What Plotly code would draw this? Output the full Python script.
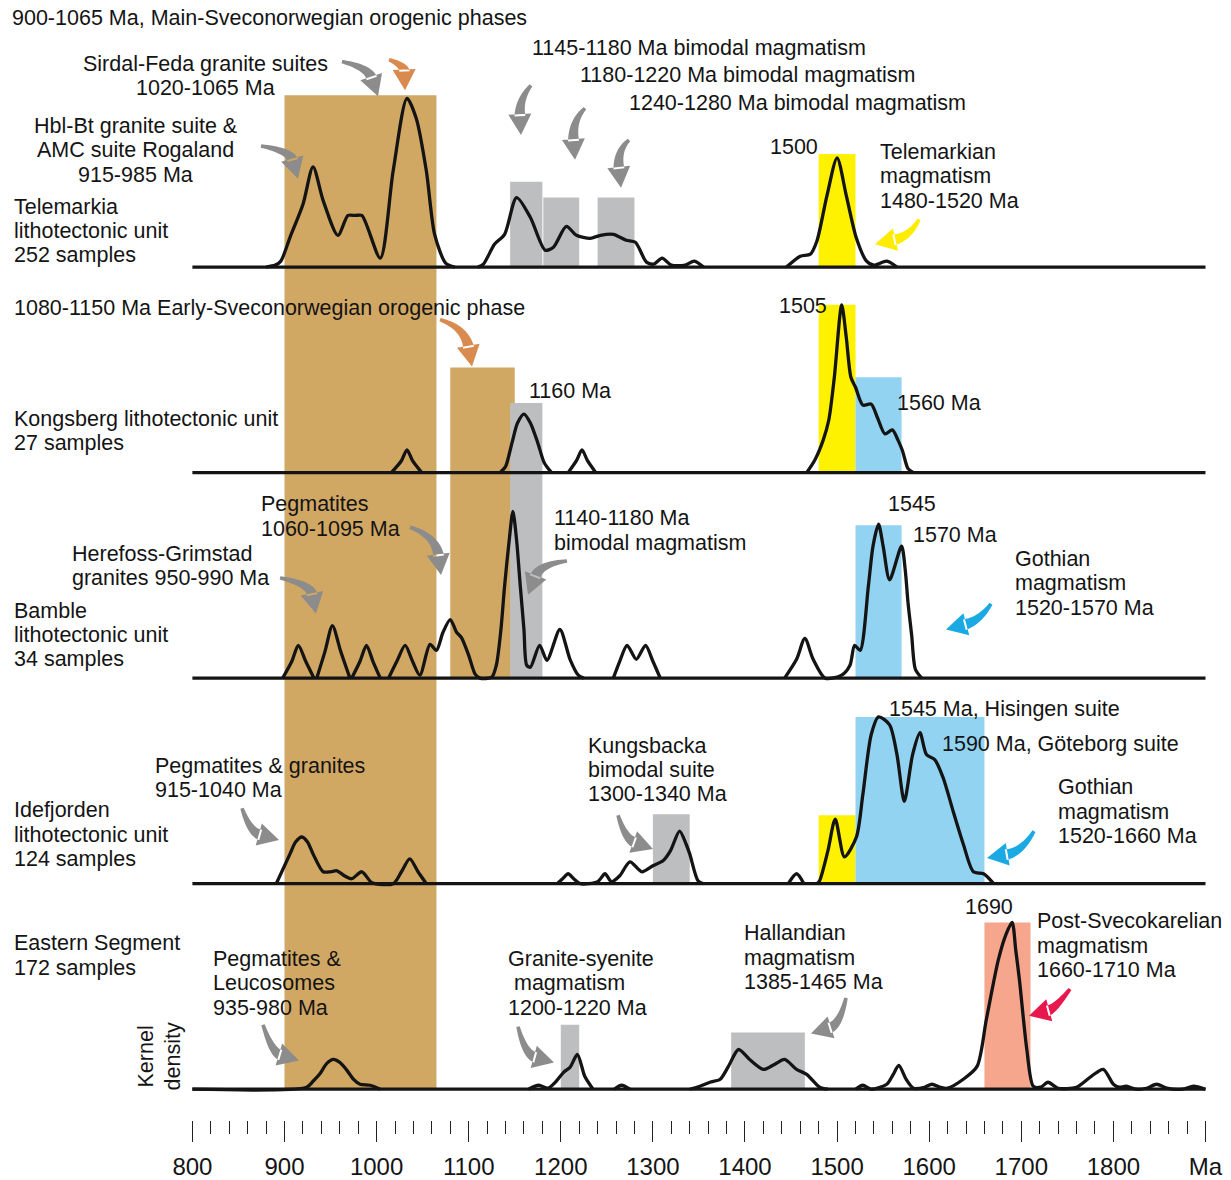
import numpy as np
import plotly.graph_objects as go

W, H = 1231, 1180
PLOT_H = 1128            # height of the plotting area; the age ruler sits below it
X_RANGE = [591.1, 1927.7]  # Ma shown across the full width

# ---------------------------------------------------------------- data
# baseline of each lithotectonic unit in stack units (0 = bottom of plot area)
unit_names = ["Telemarkia", "Kongsberg", "Bamble", "Idefjorden", "Eastern Segment"]
unit_base = [859, 652, 445, 238, 31]

# kernel density curves (age in Ma, relative density)
age_tel = [800, 880, 890, 896, 906, 920, 931, 942, 958, 969, 977, 984, 1004, 1018, 1033,
           1043, 1054, 1063, 1075, 1085, 1110, 1116, 1128, 1139, 1152, 1167, 1183, 1192,
           1206, 1217, 1232, 1243, 1257, 1271, 1281, 1293, 1301, 1310, 1320, 1335, 1345,
           1355, 1445, 1460, 1471, 1478, 1489, 1500, 1510, 1521, 1532, 1540, 1554, 1565,
           1580, 1900]
kde_tel = [0, 0, 2, 6, 30, 63, 101, 67, 32, 52, 52, 52, 9, 97, 170,
           150, 97, 33, 4, 0, 0, 3, 23, 33, 70, 50, 17, 20,
           41, 32, 29, 32, 33, 27, 25, 5, 3, 9, 2, 2, 6,
           0, 0, 11, 13, 26, 72, 110, 72, 29, 6, 2, 6, 0,
           0, 0]

age_kon = [800, 1016, 1027, 1033, 1039, 1049, 1134, 1140, 1147, 1153, 1160, 1167, 1175,
           1182, 1190, 1208, 1217, 1223, 1229, 1238, 1467, 1476, 1485, 1491, 1497, 1505,
           1510, 1515, 1520, 1528, 1537, 1544, 1552, 1560, 1566, 1571, 1577, 1583, 1900]
kde_kon = [0, 0, 12, 23, 12, 0, 0, 6, 30, 50, 59, 50, 30,
           10, 0, 0, 12, 23, 12, 0, 0, 13, 33, 53, 96, 169,
           136, 96, 86, 68, 69, 55, 39, 43, 33, 22, 4, 0, 0]

age_bam = [800, 898, 908, 915, 923, 932, 935, 944, 952, 961, 971, 973, 982, 989, 996,
           1004, 1013, 1022, 1031, 1039, 1047, 1058, 1065, 1072, 1080, 1087, 1092, 1100,
           1107, 1112, 1125, 1130, 1135, 1139, 1144, 1148, 1152, 1156, 1160, 1163, 1167,
           1177, 1185, 1199, 1210, 1219, 1225, 1257, 1264, 1272, 1282, 1292, 1300, 1308,
           1443, 1456, 1465, 1474, 1487, 1505, 1514, 1519, 1525, 1534, 1539, 1545, 1550,
           1557, 1570, 1574, 1577, 1581, 1585, 1592, 1900]
kde_bam = [0, 0, 17, 33, 17, 0, 0, 27, 53, 27, 0, 0, 17, 33, 17,
           0, 0, 17, 33, 17, 3, 34, 28, 46, 59, 46, 41, 23,
           4, 0, 1, 13, 49, 93, 139, 168, 139, 93, 49, 13, 11,
           33, 18, 49, 19, 3, 0, 0, 17, 33, 19, 33, 17, 0,
           0, 19, 40, 19, 0, 3, 13, 33, 28, 93, 133, 155, 133,
           99, 133, 109, 76, 43, 9, 0, 0]

age_ide = [800, 891, 906, 912, 919, 925, 931, 942, 950, 957, 965, 973, 984, 995, 1018,
           1027, 1036, 1045, 1054, 1196, 1202, 1208, 1214, 1221, 1240, 1248, 1255, 1264,
           1275, 1288, 1300, 1311, 1319, 1329, 1336, 1340, 1349, 1355, 1447, 1456, 1464,
           1478, 1481, 1490, 1498, 1508, 1521, 1528, 1537, 1545, 1557, 1565, 1573, 1582,
           1590, 1597, 1606, 1615, 1626, 1637, 1648, 1659, 1670, 1900]
kde_ide = [0, 0, 30, 42, 47, 42, 30, 12, 12, 13, 8, 5, 12, 1, 0,
           12, 25, 12, 0, 0, 5, 10, 5, 0, 2, 10, 2, 8,
           22, 12, 18, 23, 33, 53, 40, 30, 3, 0, 0, 10, 0,
           0, 3, 33, 65, 27, 47, 90, 150, 168, 160, 130, 83, 130,
           152, 130, 125, 107, 73, 40, 12, 10, 0, 0]

age_es = [800, 924, 931, 938, 946, 953, 960, 967, 975, 982, 993, 1004, 1165, 1176, 1186,
          1195, 1203, 1210, 1218, 1226, 1235, 1258, 1266, 1275, 1340, 1351, 1362, 1373,
          1382, 1393, 1405, 1420, 1432, 1443, 1456, 1467, 1481, 1490, 1520, 1528, 1537,
          1554, 1561, 1567, 1575, 1583, 1595, 1603, 1612, 1620, 1637, 1652, 1662, 1675,
          1683, 1690, 1694, 1698, 1706, 1713, 1721, 1729, 1740, 1760, 1776, 1789, 1800,
          1806, 1814, 1825, 1836, 1847, 1858, 1875, 1887, 1900]
kde_es = [0, 2, 8, 15, 26, 30, 27, 20, 10, 5, 4, 0, 0, 4, 1,
          8, 17, 22, 35, 13, 0, 0, 4, 0, 0, 3, 7, 10,
          23, 40, 30, 20, 25, 30, 20, 15, 2, 0, 0, 4, 0,
          5, 15, 24, 10, 1, 2, 5, 2, 1, 10, 23, 70, 130,
          155, 168, 140, 110, 40, 3, 2, 7, 1, 2, 13, 20, 5,
          2, 3, 0, 1, 5, 1, 0, 3, 0]

unit_ages = [age_tel, age_kon, age_bam, age_ide, age_es]
unit_kde = [kde_tel, kde_kon, kde_bam, kde_ide, kde_es]

# highlighted age intervals: start, end, top unit, top height, bottom unit, colour key
band_start = [900, 1080, 1145, 1145, 1181, 1240, 1480, 1480, 1520, 1520, 1300, 1480, 1520, 1200, 1385, 1660]
band_end = [1065, 1150, 1180, 1180, 1220, 1280, 1520, 1520, 1570, 1570, 1340, 1520, 1660, 1220, 1465, 1710]
band_top_unit = [0, 1, 1, 0, 0, 0, 0, 1, 1, 2, 3, 3, 3, 4, 4, 4]
band_top_height = [173, 106, 70, 86, 70, 70, 114, 169, 96, 154, 70, 69, 168, 65, 57, 168]
band_bottom_unit = [4, 2, 2, 0, 0, 0, 0, 1, 1, 2, 3, 3, 3, 4, 4, 4]
band_kind = ["orogeny", "orogeny", "bimodal", "bimodal", "bimodal", "bimodal", "telemarkian",
             "telemarkian", "gothian", "gothian", "bimodal", "telemarkian", "gothian",
             "bimodal", "bimodal", "svecokarelian"]

tick_ages = [800, 900, 1000, 1100, 1200, 1300, 1400, 1500, 1600, 1700, 1800, 1900]
tick_text = ["800", "900", "1000", "1100", "1200", "1300", "1400", "1500", "1600", "1700", "1800", "Ma"]
minor_ages = [a for a in range(800, 1901, 20) if a % 100]

# ---------------------------------------------------------------- styles
band_colors = {
    "orogeny": "#D1A764",
    "bimodal": "#BDBEC0",
    "telemarkian": "#FFF200",
    "gothian": "#92D3F1",
    "svecokarelian": "#F5A68C",
}
ARROW_GREY = "#8C8C8C"
ARROW_ORANGE = "#D98A4E"
ARROW_YELLOW = "#FFEC00"
ARROW_BLUE = "#1BA9E3"
ARROW_RED = "#E8184C"
INK = "#141414"
FONT = "Liberation Sans, Arial, sans-serif"
FS = 21.5
LINE = 24.5

fig = go.Figure()

# interval bands
shapes = []
for s, e, tu, th, bu, k in zip(band_start, band_end, band_top_unit, band_top_height,
                               band_bottom_unit, band_kind):
    shapes.append(dict(type="rect", xref="x", yref="y", x0=s, x1=e,
                       y0=unit_base[bu], y1=unit_base[tu] + th,
                       fillcolor=band_colors[k], line=dict(width=0), layer="below"))


def peak_runs(ages, dens, base):
    """Split a density curve at flat zero stretches so the spline only bends over peaks."""
    xs, ys = [], []
    for i, (a, d) in enumerate(zip(ages, dens)):
        if i > 0 and d == 0 and dens[i - 1] == 0:
            xs.append(None)
            ys.append(None)
        xs.append(a)
        ys.append(base + d)
    return xs, ys


# density curves and baselines
for name, base, ages, dens in zip(unit_names, unit_base, unit_ages, unit_kde):
    fig.add_trace(go.Scatter(
        x=[tick_ages[0], tick_ages[-1]], y=[base, base], mode="lines",
        line=dict(color=INK, width=3.3), hoverinfo="skip", showlegend=False))
    xs, ys = peak_runs(ages, dens, base)
    fig.add_trace(go.Scatter(
        x=xs, y=ys, mode="lines", name=name, connectgaps=False,
        line=dict(color=INK, width=3.3, shape="spline", smoothing=0.75),
        hoverinfo="skip", showlegend=False))


# ---------------------------------------------------------------- arrows
def to_paper(p):
    return p[0] / W, (PLOT_H - p[1]) / PLOT_H


def arrow_path(tail, ctrl, tip, w0=3.5, w1=11.0, hl=21.0, hw=11.5):
    tail, ctrl, tip = (np.array(v, dtype=float) for v in (tail, ctrl, tip))
    d = tip - ctrl
    d /= np.linalg.norm(d)
    base = tip - d * hl
    left, right = [], []
    for t in np.linspace(0, 1, 18):
        p = (1 - t) ** 2 * tail + 2 * (1 - t) * t * ctrl + t ** 2 * (base + d * 2)
        dv = 2 * (1 - t) * (ctrl - tail) + 2 * t * (base + d * 2 - ctrl)
        n = np.array([-dv[1], dv[0]]) / np.linalg.norm(dv)
        w = (w0 + (w1 - w0) * t) / 2
        left.append(p + n * w)
        right.append(p - n * w)
    poly = left + right[::-1]
    nh = np.array([-d[1], d[0]])
    head = [base + nh * hw, tip, base - nh * hw]

    def seg(points):
        xy = [to_paper(q) for q in points]
        return "M " + " L ".join(f"{x:.5f},{y:.5f}" for x, y in xy) + " Z"

    return seg(poly) + " " + seg(head)


arrows = [
    ((389, 60), (404, 66), (405, 91), ARROW_ORANGE),
    ((342, 62), (368, 68), (378, 97), ARROW_GREY),
    ((261, 147), (290, 152), (298, 180), ARROW_GREY),
    ((531, 86), (519, 100), (521, 136), ARROW_GREY),
    ((585, 109), (572, 122), (575, 161), ARROW_GREY),
    ((629, 141), (617, 152), (621, 189), ARROW_GREY),
    ((919, 221), (910, 238), (875, 246), ARROW_YELLOW),
    ((440, 322), (465, 330), (472, 369), ARROW_ORANGE),
    ((410, 531), (436, 540), (441, 579), ARROW_GREY),
    ((280, 582), (310, 588), (316, 618), ARROW_GREY),
    ((567, 565), (540, 568), (528, 599), ARROW_GREY),
    ((991, 608), (980, 625), (946, 634), ARROW_BLUE),
    ((242, 814), (250, 838), (279, 846), ARROW_GREY),
    ((618, 821), (625, 845), (653, 855), ARROW_GREY),
    ((1034, 837), (1022, 858), (987, 864), ARROW_BLUE),
    ((263, 1032), (272, 1060), (299, 1068), ARROW_GREY),
    ((518, 1034), (525, 1062), (554, 1070), ARROW_GREY),
    ((846, 1005), (840, 1032), (811, 1041), ARROW_GREY),
    ((1070, 996), (1055, 1016), (1029, 1023), ARROW_RED),
]
for tail, ctrl, tip, col in arrows:
    shapes.append(dict(type="path", xref="paper", yref="paper",
                       path=arrow_path(tail, ctrl, tip), fillcolor=col,
                       line=dict(width=0), layer="above"))

# ---------------------------------------------------------------- labels
text_blocks = [
    (10, 18, ["900-1065 Ma, Main-Sveconorwegian orogenic phases"], "left"),
    (205, 64, ["Sirdal-Feda granite suites", "1020-1065 Ma"], "center"),
    (135, 127, ["Hbl-Bt granite suite &", "AMC suite Rogaland", "915-985 Ma"], "center"),
    (12, 208, ["Telemarkia", "lithotectonic unit", "252 samples"], "left"),
    (530, 48, ["1145-1180 Ma bimodal magmatism"], "left"),
    (578, 76, ["1180-1220 Ma bimodal magmatism"], "left"),
    (627, 104, ["1240-1280 Ma bimodal magmatism"], "left"),
    (768, 148, ["1500"], "left"),
    (878, 153, ["Telemarkian", "magmatism", "1480-1520 Ma"], "left"),
    (12, 310, ["1080-1150 Ma Early-Sveconorwegian orogenic phase"], "left"),
    (777, 308, ["1505"], "left"),
    (527, 394, ["1160 Ma"], "left"),
    (895, 406, ["1560 Ma"], "left"),
    (12, 422, ["Kongsberg lithotectonic unit", "27 samples"], "left"),
    (886, 508, ["1545"], "left"),
    (259, 508, ["Pegmatites", "1060-1095 Ma"], "left"),
    (552, 522, ["1140-1180 Ma", "bimodal magmatism"], "left"),
    (911, 539, ["1570 Ma"], "left"),
    (70, 558, ["Herefoss-Grimstad", "granites 950-990 Ma"], "left"),
    (1013, 563, ["Gothian", "magmatism", "1520-1570 Ma"], "left"),
    (12, 615, ["Bamble", "lithotectonic unit", "34 samples"], "left"),
    (887, 714, ["1545 Ma, Hisingen suite"], "left"),
    (940, 749, ["1590 Ma, Göteborg suite"], "left"),
    (586, 751, ["Kungsbacka", "bimodal suite", "1300-1340 Ma"], "left"),
    (153, 771, ["Pegmatites & granites", "915-1040 Ma"], "left"),
    (1056, 793, ["Gothian", "magmatism", "1520-1660 Ma"], "left"),
    (12, 816, ["Idefjorden", "lithotectonic unit", "124 samples"], "left"),
    (963, 913, ["1690"], "left"),
    (1035, 928, ["Post-Svecokarelian", "magmatism", "1660-1710 Ma"], "left"),
    (742, 940, ["Hallandian", "magmatism", "1385-1465 Ma"], "left"),
    (506, 966, ["Granite-syenite", "\u00a0magmatism", "1200-1220 Ma"], "left"),
    (12, 950, ["Eastern Segment", "172 samples"], "left"),
    (211, 966, ["Pegmatites &", "Leucosomes", "935-980 Ma"], "left"),
]

annotations = []
for x, y, lines, anchor in text_blocks:
    for i, line in enumerate(lines):
        px, py = to_paper((x, y + i * LINE))
        annotations.append(dict(x=px, y=py, xref="paper", yref="paper", text=line,
                                showarrow=False, xanchor=anchor, yanchor="middle",
                                font=dict(family=FONT, size=FS, color=INK)))

kx, ky = to_paper((160, 1064))
annotations.append(dict(x=kx, y=ky, xref="paper", yref="paper", text="Kernel<br>density",
                        showarrow=False, textangle=-90, xanchor="center", yanchor="middle",
                        font=dict(family=FONT, size=FS, color=INK)))

fig.update_layout(
    width=W, height=H,
    margin=dict(l=0, r=0, t=0, b=H - PLOT_H),
    paper_bgcolor="white", plot_bgcolor="white",
    shapes=shapes, annotations=annotations,
    xaxis=dict(range=X_RANGE, showgrid=False, zeroline=False, showline=False,
               tickmode="array", tickvals=tick_ages, ticktext=tick_text,
               ticks="outside", ticklen=21, tickwidth=1.2, tickcolor="#222",
               ticklabelstandoff=4,
               tickfont=dict(family="Liberation Sans Narrow, Liberation Sans, Arial", size=24, color=INK),
               minor=dict(tickmode="array", tickvals=minor_ages, ticks="outside",
                          ticklen=13, tickwidth=1.2, tickcolor="#222")),
    yaxis=dict(range=[0, PLOT_H], visible=False, fixedrange=True),
)

fig.write_html("out.html")
